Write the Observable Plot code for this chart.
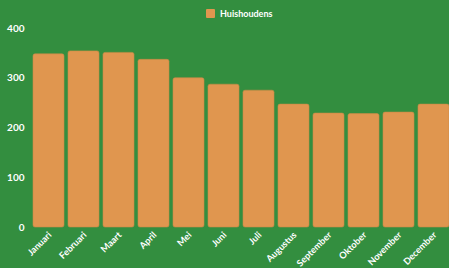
<!DOCTYPE html>
<html><head><meta charset="utf-8">
<script src="https://cdn.jsdelivr.net/npm/d3@7"></script>
<script src="https://cdn.jsdelivr.net/npm/@observablehq/plot@0.6"></script>
<style>
html,body{margin:0;padding:0;background:#338e3f;overflow:hidden;width:449px;height:268px;}
#legend{height:22px;position:relative;font-family:Lato,sans-serif;font-weight:700;font-size:9px;color:#fff;}
#legend .sw{position:absolute;left:206px;top:9px;width:9px;height:9px;background:#e0964f;border-radius:1px;}
#legend .lb{position:absolute;left:220px;top:8px;line-height:11px;}
svg{display:block;}
</style></head><body>
<div id="legend"><span class="sw"></span><span class="lb">Huishoudens</span></div>
<div id="chart"></div>
<script>
const months = ["Januari","Februari","Maart","April","Mei","Juni","Juli","Augustus","September","Oktober","November","December"];
const households = [348,354,351,337,300,287,275,247,229,228,231,247];
const yTicks = [0,100,200,300,400];
const seriesName = "Huishoudens";

const data = months.map((m,i)=>({month:m, value:households[i]}));

const chart = Plot.plot({
  width: 449,
  height: 246,
  marginTop: 6,
  marginBottom: 41,
  marginLeft: 27,
  marginRight: 0,
  style: {background:"#338e3f", color:"#fff", fontFamily:"Lato, sans-serif", fontWeight:"700", fontSize:"9.5px", overflow:"visible"},
  x: {domain: months, range:[26.8, 455.4], padding:0.12, label:null},
  y: {domain:[0,400], label:null},
  marks: [
    Plot.barY(data, {x:"month", y:"value", fill:"#e0964f", stroke:"#c98a47", strokeWidth:0.6, rx:2}),
    Plot.axisY({ticks:yTicks, tickSize:0, tickPadding:3, fontSize:10, label:null}),
    Plot.axisX({tickSize:0, tickPadding:6, tickRotate:-45, fontSize:9.2, label:null, dx:1})
  ]
});
document.getElementById("chart").appendChild(chart);
</script>
</body></html>
